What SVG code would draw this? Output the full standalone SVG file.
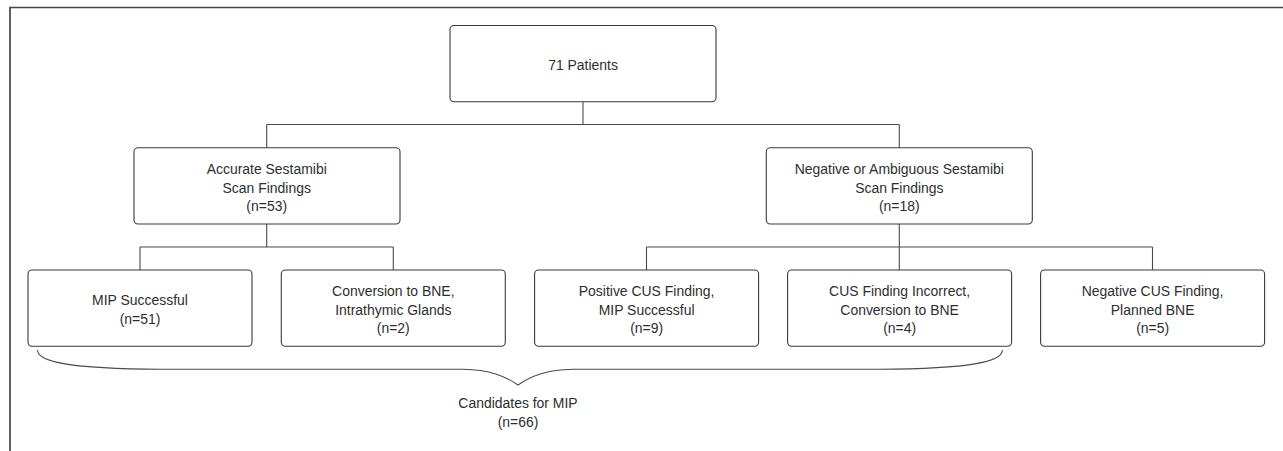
<svg xmlns="http://www.w3.org/2000/svg" width="1283" height="451" viewBox="0 0 1283 451">
<style>
.bg{fill:#ffffff}
.box{fill:#ffffff;stroke:#3a3a3a;stroke-width:1.1}
.ln{fill:none;stroke:#4a4a4a;stroke-width:1.1}
.frame{fill:none;stroke:#454545;stroke-width:1.7}
.t{font-family:"Liberation Sans",Arial,sans-serif;font-size:15.5px;fill:#2e2e2e;text-anchor:middle}
</style>
<rect class="bg" x="0" y="0" width="1283" height="451"/>
<path class="frame" d="M10 451 L10 7.5 L1283 7.5"/>
<g id="connectors">
<path class="ln" d="M583 101.7 V124.5 M266.7 124.5 H899.3 M266.7 124.5 V147.7 M899.3 124.5 V147.7"/>
<path class="ln" d="M266.7 224 V247 M140 247 H393.3 M140 247 V270 M393.3 247 V270"/>
<path class="ln" d="M899.3 224 V270 M646.5 247 H1152.5 M646.5 247 V270 M1152.5 247 V270"/>
<path class="ln" d="M37.5 350 C37.5 362 70 368.5 160 369.3 L463 369.3 C490 369.8 505 376 518 385 C531 376 546 369.8 573 369.3 L880 369.3 C970 368.5 1002.4 362 1002.4 350"/>
</g>
<g id="n_patients">
<rect class="box" x="450" y="25.5" width="266" height="76.2" rx="4"/>
<text class="t" transform="translate(583 0) scale(0.9 1)"><tspan x="0" y="70">71 Patients</tspan></text>
</g>
<g id="n_accurate">
<rect class="box" x="134" y="147.7" width="266" height="76.3" rx="4"/>
<text class="t" transform="translate(266.7 0) scale(0.9 1)"><tspan x="0" y="174">Accurate Sestamibi</tspan><tspan x="0" y="192.7">Scan Findings</tspan><tspan x="0" y="211.4">(n=53)</tspan></text>
</g>
<g id="n_negative">
<rect class="box" x="766.3" y="147.7" width="266" height="76.3" rx="4"/>
<text class="t" transform="translate(899.3 0) scale(0.9 1)"><tspan x="0" y="174">Negative or Ambiguous Sestamibi</tspan><tspan x="0" y="192.7">Scan Findings</tspan><tspan x="0" y="211.4">(n=18)</tspan></text>
</g>
<g id="n_mip">
<rect class="box" x="28" y="270" width="224" height="76.3" rx="4"/>
<text class="t" transform="translate(140 0) scale(0.9 1)"><tspan x="0" y="305.3">MIP Successful</tspan><tspan x="0" y="324">(n=51)</tspan></text>
</g>
<g id="n_conv">
<rect class="box" x="281.3" y="270" width="224" height="76.3" rx="4"/>
<text class="t" transform="translate(393.3 0) scale(0.9 1)"><tspan x="0" y="296">Conversion to BNE,</tspan><tspan x="0" y="314.7">Intrathymic Glands</tspan><tspan x="0" y="333.4">(n=2)</tspan></text>
</g>
<g id="n_pos">
<rect class="box" x="534.6" y="270" width="224" height="76.3" rx="4"/>
<text class="t" transform="translate(646.6 0) scale(0.9 1)"><tspan x="0" y="296">Positive CUS Finding,</tspan><tspan x="0" y="314.7">MIP Successful</tspan><tspan x="0" y="333.4">(n=9)</tspan></text>
</g>
<g id="n_incorrect">
<rect class="box" x="787.6" y="270" width="224" height="76.3" rx="4"/>
<text class="t" transform="translate(899.6 0) scale(0.9 1)"><tspan x="0" y="296">CUS Finding Incorrect,</tspan><tspan x="0" y="314.7">Conversion to BNE</tspan><tspan x="0" y="333.4">(n=4)</tspan></text>
</g>
<g id="n_negcus">
<rect class="box" x="1040.6" y="270" width="224" height="76.3" rx="4"/>
<text class="t" transform="translate(1152.6 0) scale(0.9 1)"><tspan x="0" y="296">Negative CUS Finding,</tspan><tspan x="0" y="314.7">Planned BNE</tspan><tspan x="0" y="333.4">(n=5)</tspan></text>
</g>
<g id="n_candidates">
<text class="t" transform="translate(518 0) scale(0.9 1)"><tspan x="0" y="408.3">Candidates for MIP</tspan><tspan x="0" y="427">(n=66)</tspan></text>
</g>
</svg>
